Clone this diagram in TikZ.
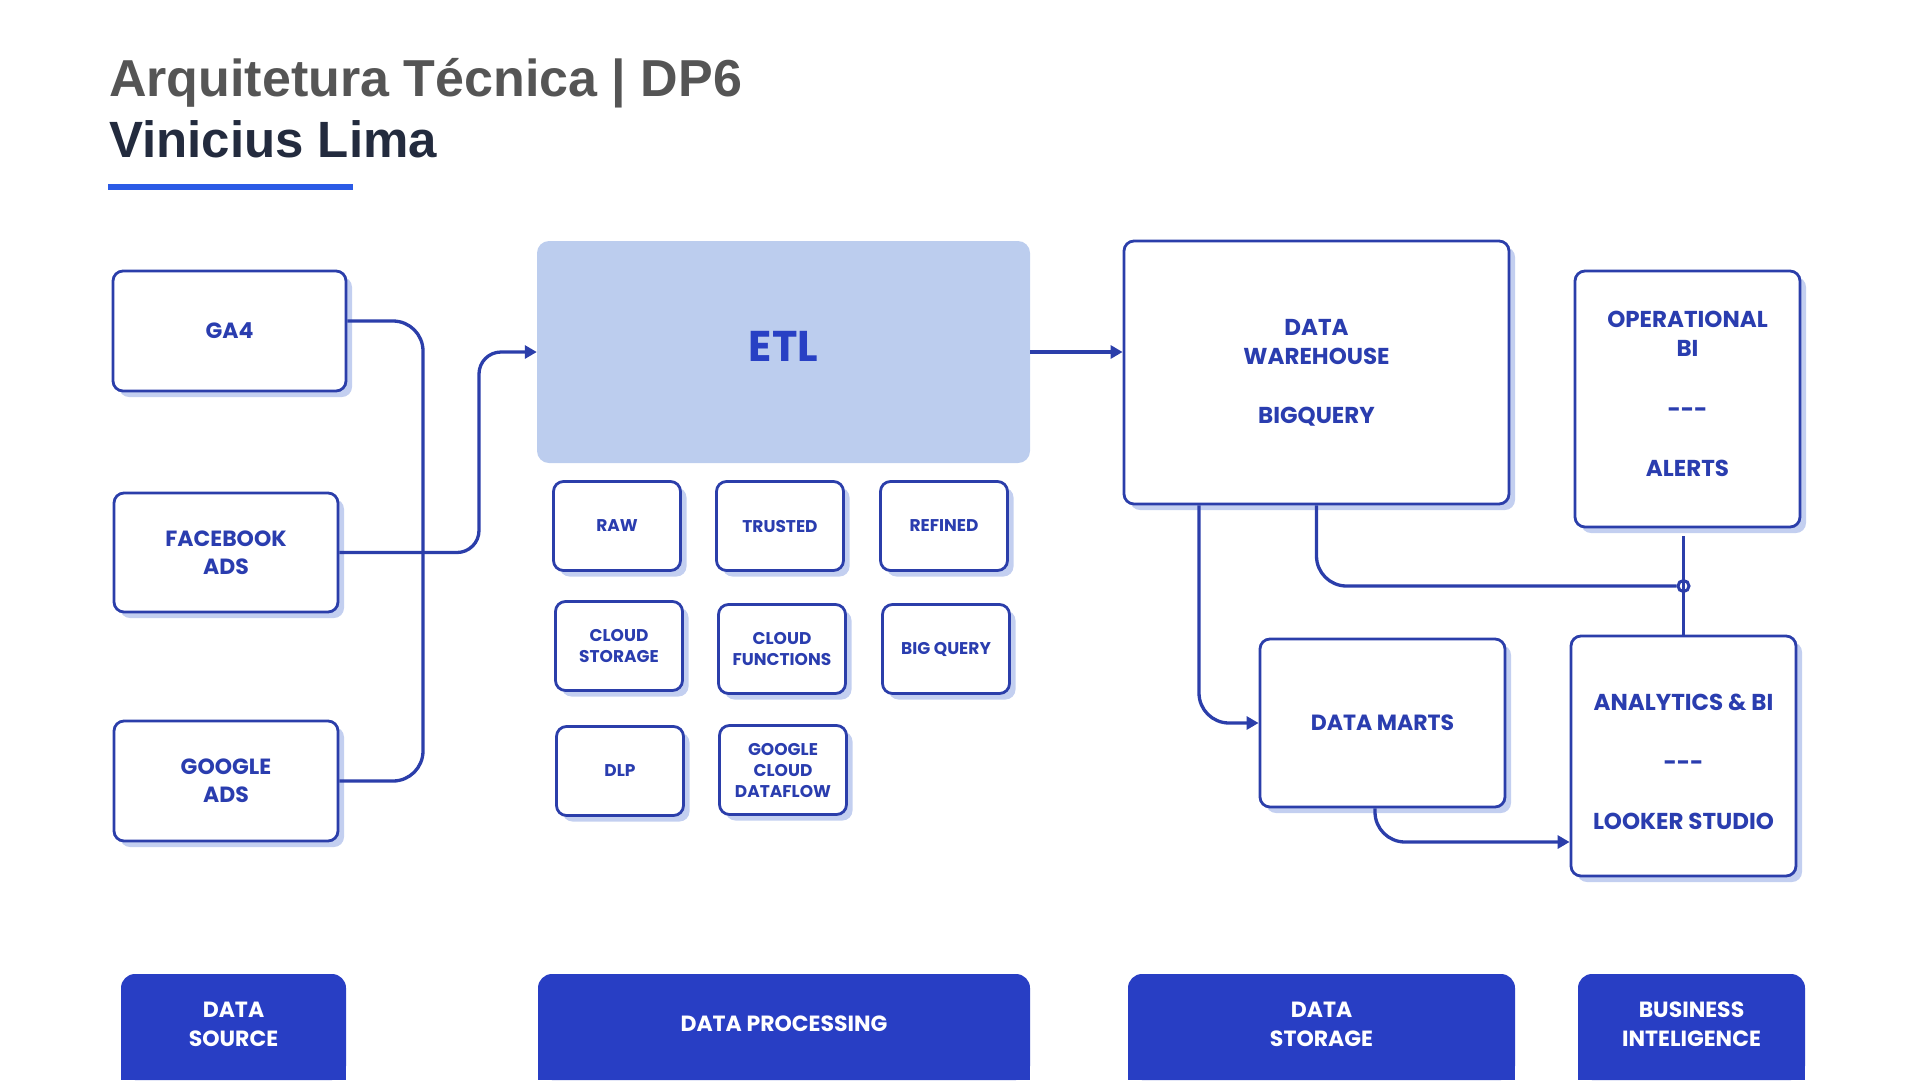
\documentclass[tikz,border=0pt]{standalone}
\usepackage{fontspec}
\setmainfont{Poppins}
\newfontfamily\headfont{Liberation Sans}
\usetikzlibrary{positioning}
\usetikzlibrary{arrows.meta}
\usetikzlibrary{shadows}
\definecolor{lineblue}{RGB}{43,62,170}
\definecolor{labelblue}{RGB}{42,61,175}
\definecolor{shadowblue}{RGB}{195,207,240}
\definecolor{etlfill}{RGB}{188,205,238}
\definecolor{etltext}{RGB}{40,64,196}
\definecolor{barblue}{RGB}{40,62,196}
\definecolor{titlegrey}{RGB}{85,85,85}
\definecolor{authornavy}{RGB}{35,43,62}
\definecolor{rulerblue}{RGB}{43,91,230}
\pgfdeclarelayer{bg}
\pgfsetlayers{bg,main}
\tikzset{srcbox/.style={rectangle, rounded corners=10pt, draw=lineblue, line width=2.8pt, fill=white, text=labelblue, align=center, inner sep=0pt, drop shadow={shadow xshift=6pt, shadow yshift=-6pt, fill=shadowblue, opacity=1}, font=\bfseries\fontsize{22}{28}\selectfont}}
\tikzset{toolbox/.style={srcbox, minimum width=127pt, minimum height=89pt, font=\bfseries\fontsize{17}{21}\selectfont}}
\tikzset{bigbox/.style={srcbox, font=\bfseries\fontsize{23}{29}\selectfont}}
\tikzset{etlbox/.style={rectangle, rounded corners=12pt, fill=etlfill, text=etltext, inner sep=0pt, text depth=12pt, font=\bfseries\fontsize{43}{50}\selectfont}}
\tikzset{stagebar/.style={rectangle, rounded corners=14pt, fill=barblue, text=white, align=center, inner sep=0pt, text depth=6pt, minimum height=106pt, font=\bfseries\fontsize{22}{29}\selectfont}}
\tikzset{flowline/.style={draw=lineblue, line width=3.3pt, rounded corners=30pt}}
\tikzset{flowarrow/.style={-{Triangle[length=12pt,width=13pt]}}}
\tikzset{hubring/.style={circle, draw=lineblue, line width=3pt, minimum size=11pt, inner sep=0pt}}
\newcommand{\sepdash}{\mbox{-}\mbox{-}\mbox{-}}

\begin{document}
\begin{tikzpicture}[x=1pt, y=-1pt]
        \useasboundingbox (0,0) rectangle (1920,1080);

        \node [anchor=base west, inner sep=0pt, text=titlegrey, font=\headfont\bfseries\fontsize{52}{60}\selectfont](title) at (109,96){Arquitetura Técnica | DP6};
        \node [anchor=base west, inner sep=0pt, text=authornavy, font=\headfont\bfseries\fontsize{51}{60}\selectfont](author) at (109,157){Vinicius Lima};
        \node [anchor=north west, fill=rulerblue, inner sep=0pt, minimum width=245pt, minimum height=6pt](underline) at (108,184){};

        \node [srcbox, minimum width=233pt, minimum height=120pt](ga4) at (229.5,331){GA4};
        \node [srcbox, minimum width=224pt, minimum height=119pt](facebook) at (226,552.5){FACEBOOK\\ADS};
        \node [srcbox, minimum width=224pt, minimum height=120pt](googleads) at (226,781){GOOGLE\\ADS};

        \node [etlbox, minimum width=493pt, minimum height=222pt](etl) at (783.5,352){ETL};
        \node [toolbox](raw) at (617,526){RAW};
        \node [toolbox](trusted) at (780,526){TRUSTED};
        \node [toolbox](refined) at (944,526){REFINED};
        \node [toolbox](storage) at (619,646){CLOUD\\STORAGE};
        \node [toolbox](functions) at (782,649){CLOUD\\FUNCTIONS};
        \node [toolbox](bigquery) at (946,649){BIG QUERY};
        \node [toolbox](dlp) at (620,771){DLP};
        \node [toolbox](dataflow) at (783,770){GOOGLE\\CLOUD\\DATAFLOW};

        \node [bigbox, minimum width=385pt, minimum height=263pt](warehouse) at (1316.5,372.5){DATA\\WAREHOUSE\\[30pt]BIGQUERY};
        \node [bigbox, text depth=11pt, minimum width=225pt, minimum height=256pt](opbi) at (1687.5,399){OPERATIONAL\\BI\\[32pt]\sepdash\\[30pt]ALERTS};
        \node [bigbox, font=\bfseries\fontsize{22}{29}\selectfont, minimum width=245pt, minimum height=168pt](marts) at (1382.5,723){DATA MARTS};
        \node [bigbox, minimum width=225pt, minimum height=240pt](analytics) at (1683.5,756){\rule{0pt}{28pt}ANALYTICS \& BI\\[31pt]\sepdash\\[30pt]LOOKER STUDIO};

        \node [stagebar, minimum width=225pt](sourcebar) at (233.5,1027){DATA\\SOURCE};
        \node [stagebar, minimum width=492pt](processbar) at (784,1027){DATA PROCESSING};
        \node [stagebar, minimum width=387pt](storagebar) at (1321.5,1027){DATA\\STORAGE};
        \node [stagebar, minimum width=227pt](bibar) at (1691.5,1027){BUSINESS\\INTELIGENCE};
        \begin{pgfonlayer}{bg}
                \foreach \bar in {sourcebar,processbar,storagebar,bibar}
                        \fill [barblue] (\bar.west) rectangle (\bar.south east);
        \end{pgfonlayer}

        \coordinate (sourcebus) at (423,552);
        \coordinate (etlfeed) at (479,450);
        \node [hubring](hub) at (1683.5,586){};

        \draw [flowline] ([yshift=10pt]ga4.east) -| (sourcebus) |- (googleads.east);
        \draw [flowline, flowarrow, rounded corners=22pt] (facebook.east) -| (etlfeed) |- (etl.west);
        \draw [flowline, flowarrow] (etl.east) -- (etl.east -| warehouse.west);
        \draw [flowline, flowarrow] ([xshift=-117.5pt]warehouse.south) |- (marts.west);
        \draw [flowline] (warehouse.south) |- (hub.west);
        \draw [flowline, shorten <=8pt] (opbi.south -| hub) -- (analytics.north);
        \draw [flowline, flowarrow] ([xshift=-7.5pt]marts.south) |- ([yshift=-86pt]analytics.west);
\end{tikzpicture}
\end{document}
